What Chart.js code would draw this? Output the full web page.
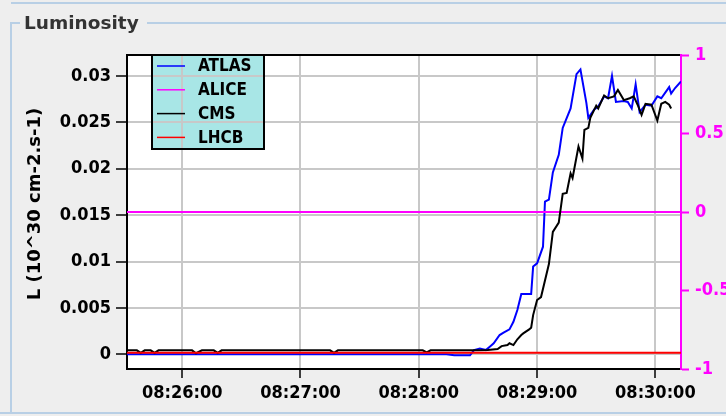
<!DOCTYPE html>
<html>
<head>
<meta charset="utf-8">
<title>Luminosity</title>
<script src="https://cdn.jsdelivr.net/npm/chart.js@4.4.1/dist/chart.umd.min.js"></script>
<style>
  html, body { margin: 0; padding: 0; background: #eeeeee; }
  canvas { display: block; }
</style>
</head>
<body>
<canvas id="lumi" width="726" height="416"></canvas>
<script>
// time axis range and tick times
const xRange = ['08:25:32', '08:30:13'];
const xTicks = ['08:26:00', '08:27:00', '08:28:00', '08:29:00', '08:30:00'];

// left axis: luminosity, right axis: ALICE
const yRange = [-0.00158, 0.03226];
const yTicks = [0, 0.005, 0.01, 0.015, 0.02, 0.025, 0.03];
const y2Range = [-1, 1];
const y2Ticks = [-1, -0.5, 0, 0.5, 1];

const atlasTimes = [
    '08:25:32', '08:26:30', '08:27:30', '08:28:14', '08:28:18', '08:28:26', '08:28:28', '08:28:31',
    '08:28:34', '08:28:36', '08:28:38', '08:28:41', '08:28:43', '08:28:46', '08:28:48', '08:28:50',
    '08:28:52', '08:28:57', '08:28:58', '08:29:00', '08:29:03', '08:29:04', '08:29:06', '08:29:08',
    '08:29:11', '08:29:13', '08:29:17', '08:29:20', '08:29:22', '08:29:25', '08:29:26', '08:29:29',
    '08:29:31', '08:29:34', '08:29:36', '08:29:38', '08:29:40', '08:29:44', '08:29:46', '08:29:48',
    '08:29:50', '08:29:52', '08:29:55', '08:29:58', '08:30:01', '08:30:03', '08:30:07', '08:30:08',
    '08:30:10', '08:30:13'
];
const atlasValues = [
    0, 0, 0, 0, -0.0001, -0.0001, 0.00046, 0.00062,
    0.00046, 0.00082, 0.00119, 0.00208, 0.00233, 0.00269, 0.00351, 0.00477,
    0.0065, 0.0065, 0.00946, 0.0098, 0.0116, 0.01646, 0.01668, 0.0196,
    0.0215, 0.0244, 0.0265, 0.0302, 0.0307, 0.0271, 0.0255, 0.0264,
    0.0267, 0.0278, 0.0276, 0.0300, 0.0272, 0.0273, 0.0272, 0.0265,
    0.0291, 0.0261, 0.0269, 0.0268, 0.0278, 0.0276, 0.0288, 0.0281,
    0.0287, 0.0294
];

const cmsTimes = [
    '08:25:32', '08:25:37', '08:25:39', '08:25:41', '08:25:44', '08:25:46', '08:25:48', '08:26:05',
    '08:26:07', '08:26:10', '08:26:16', '08:26:18', '08:26:20', '08:27:15', '08:27:17', '08:27:19',
    '08:28:02', '08:28:04', '08:28:06', '08:28:30', '08:28:35', '08:28:40', '08:28:42', '08:28:45',
    '08:28:46', '08:28:48', '08:28:50', '08:28:52', '08:28:53', '08:28:56', '08:28:57', '08:28:58',
    '08:29:00', '08:29:02', '08:29:06', '08:29:08', '08:29:11', '08:29:13', '08:29:15', '08:29:17',
    '08:29:18', '08:29:21', '08:29:23', '08:29:24', '08:29:26', '08:29:27', '08:29:30', '08:29:31',
    '08:29:34', '08:29:36', '08:29:39', '08:29:41', '08:29:44', '08:29:47', '08:29:49', '08:29:51',
    '08:29:53', '08:29:55', '08:29:58', '08:30:01', '08:30:03', '08:30:05', '08:30:07', '08:30:08'
];
const cmsValues = [
    0.00043, 0.00043, 0.00015, 0.00043, 0.00043, 0.00015, 0.00043, 0.00043,
    0.00012, 0.00043, 0.00043, 0.00015, 0.00043, 0.00043, 0.00015, 0.00043,
    0.00043, 0.0002, 0.00043, 0.00043, 0.00046, 0.00057, 0.00089, 0.001,
    0.00119, 0.001, 0.00162, 0.00208, 0.00226, 0.00269, 0.00287, 0.00423,
    0.00585, 0.00617, 0.00973, 0.0132, 0.0142, 0.0173, 0.0174, 0.0195,
    0.019, 0.0224, 0.0211, 0.0242, 0.0244, 0.0255, 0.0268, 0.0265,
    0.0279, 0.0276, 0.0278, 0.0285, 0.0274, 0.0276, 0.0278, 0.0269,
    0.0258, 0.027, 0.0269, 0.0252, 0.027, 0.0272, 0.0269, 0.0265
];

const aliceTimes = ['08:25:32', '08:30:13'];
const aliceValues = [0, 0];
const lhcbTimes = ['08:25:32', '08:30:13'];
const lhcbValues = [0.00017, 0.00017];

const boldNarrow = '"DejaVu Sans Condensed", "DejaVu Sans", sans-serif';
const tickFont = { family: boldNarrow, size: 18, weight: 'bold' };

function toSec(t) {
    const [h, m, s] = t.split(':').map(Number);
    return h * 3600 + m * 60 + s;
}

function clock(sec) {
    const pad = n => String(n).padStart(2, '0');
    sec = Math.round(sec);
    return `${pad(Math.floor(sec / 3600))}:${pad(Math.floor(sec / 60) % 60)}:${pad(sec % 60)}`;
}

function points(times, values) {
    return times.map((t, i) => ({ x: toSec(t), y: values[i] }));
}

// panel background, titled border, plot background and the boxed legend
const framePlugin = {
    id: 'frame',
    beforeDraw(chart) {
        const { ctx, chartArea: a, width, height } = chart;
        ctx.save();
        ctx.fillStyle = '#eeeeee';
        ctx.fillRect(0, 0, width, height);

        ctx.strokeStyle = '#b8cfe5';
        ctx.lineWidth = 2;
        ctx.beginPath();
        ctx.moveTo(11, 3); ctx.lineTo(width, 3);
        ctx.moveTo(11, 23); ctx.lineTo(20, 23);
        ctx.moveTo(147, 23); ctx.lineTo(width, 23);
        ctx.moveTo(11, 22); ctx.lineTo(11, 413);
        ctx.moveTo(0, 413); ctx.lineTo(width, 413);
        ctx.stroke();

        ctx.fillStyle = '#ffffff';
        ctx.fillRect(a.left, a.top, a.right - a.left, a.bottom - a.top);

        ctx.fillStyle = '#a8e6e6';
        ctx.fillRect(a.left + 25, a.top, 112, 94);
        ctx.restore();
    },
    afterDraw(chart) {
        const { ctx, chartArea: a } = chart;
        ctx.save();

        // top edge of the plot
        ctx.strokeStyle = '#000000';
        ctx.lineWidth = 2;
        ctx.beginPath();
        ctx.moveTo(a.left, a.top);
        ctx.lineTo(a.right - 1, a.top);
        ctx.stroke();

        // legend
        const lx = a.left + 25, ly = a.top;
        ctx.strokeRect(lx, ly, 112, 94);
        ctx.font = `bold 17px ${boldNarrow}`;
        ctx.textAlign = 'left';
        ctx.textBaseline = 'middle';
        chart.data.datasets.forEach((ds, i) => {
            const y = ly + 11 + i * 23.8;
            ctx.strokeStyle = ds.borderColor;
            ctx.lineWidth = 1.5;
            ctx.beginPath();
            ctx.moveTo(lx + 5, y);
            ctx.lineTo(lx + 33, y);
            ctx.stroke();
            ctx.fillStyle = '#000000';
            ctx.fillText(ds.label, lx + 46, y + 1);
        });

        // y axis title
        ctx.save();
        ctx.translate(35, 204);
        ctx.rotate(-Math.PI / 2);
        ctx.textAlign = 'center';
        ctx.font = 'bold 18px "DejaVu Sans", sans-serif';
        ctx.fillStyle = '#000000';
        ctx.fillText('L (10^30 cm-2.s-1)', 0, 0);
        ctx.restore();

        // panel title
        ctx.font = 'bold 18.5px "DejaVu Sans", sans-serif';
        ctx.textAlign = 'left';
        ctx.textBaseline = 'alphabetic';
        ctx.fillStyle = '#333333';
        ctx.fillText('Luminosity', 24, 29);
        ctx.restore();
    }
};

new Chart(document.getElementById('lumi'), {
    type: 'line',
    data: {
        datasets: [
            { label: 'ATLAS', data: points(atlasTimes, atlasValues), borderColor: '#0000ff', yAxisID: 'y', order: 4 },
            { label: 'ALICE', data: points(aliceTimes, aliceValues), borderColor: '#ff00ff', yAxisID: 'y2', order: 3 },
            { label: 'CMS', data: points(cmsTimes, cmsValues), borderColor: '#000000', yAxisID: 'y', order: 2 },
            { label: 'LHCB', data: points(lhcbTimes, lhcbValues), borderColor: '#ff0000', yAxisID: 'y', order: 1 }
        ]
    },
    options: {
        responsive: false,
        animation: false,
        devicePixelRatio: 1,
        layout: { padding: { top: 55, left: 0, right: 0, bottom: 0 } },
        elements: {
            line: { borderWidth: 2, tension: 0 },
            point: { radius: 0 }
        },
        plugins: {
            legend: { display: false },
            tooltip: { enabled: false }
        },
        scales: {
            x: {
                type: 'linear',
                min: toSec(xRange[0]),
                max: toSec(xRange[1]),
                afterBuildTicks: s => { s.ticks = xTicks.map(t => ({ value: toSec(t) })); },
                afterFit: s => { s.height = 47; },
                ticks: { callback: v => clock(v), color: '#000000', font: tickFont, padding: 5, maxRotation: 0, autoSkip: false },
                grid: { color: '#c8c8c8', lineWidth: 2, tickColor: '#000000', tickLength: 9, tickWidth: 1.5 },
                border: { color: '#000000', width: 2 }
            },
            y: {
                position: 'left',
                min: yRange[0],
                max: yRange[1],
                afterBuildTicks: s => { s.ticks = yTicks.map(v => ({ value: v })); },
                afterFit: s => { s.width = 127; },
                ticks: { callback: v => String(parseFloat(v.toFixed(4))), color: '#000000', font: tickFont, padding: 5 },
                grid: { color: '#c8c8c8', lineWidth: 2, tickColor: '#000000', tickLength: 11, tickWidth: 1.5 },
                border: { color: '#000000', width: 2 }
            },
            y2: {
                position: 'right',
                min: y2Range[0],
                max: y2Range[1],
                afterBuildTicks: s => { s.ticks = y2Ticks.map(v => ({ value: v })); },
                afterFit: s => { s.width = 45; },
                ticks: { callback: v => String(v), color: '#ff00ff', font: tickFont, padding: 6 },
                grid: { drawOnChartArea: false, tickColor: '#ff00ff', tickLength: 8, tickWidth: 2 },
                border: { color: '#ff00ff', width: 2 }
            }
        }
    },
    plugins: [framePlugin]
});
</script>
</body>
</html>
